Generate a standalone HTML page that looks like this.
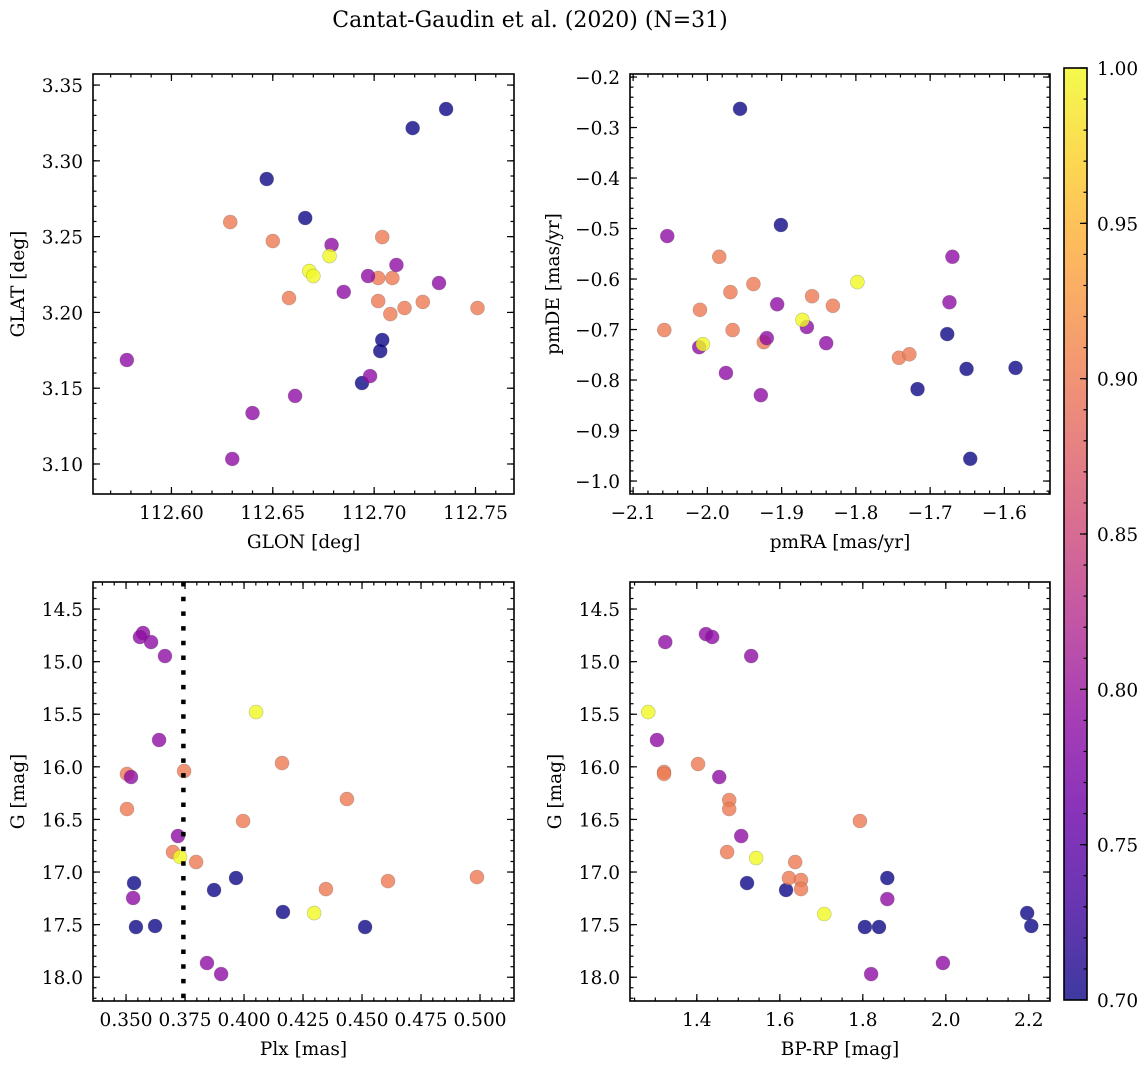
<!DOCTYPE html>
<html><head><meta charset="utf-8"><style>
html,body{margin:0;padding:0;background:#fff;}
svg{display:block;font-family:"DejaVu Serif","Liberation Serif",serif;}
</style></head><body>
<svg id="fig" width="1148" height="1068" viewBox="0 0 1148 1068" xmlns="http://www.w3.org/2000/svg">
<text x="530" y="27" font-size="22" text-anchor="middle">Cantat-Gaudin et al. (2020) (N=31)</text>
</svg>
<script>
// ---- data (C = colour value) ----
const tlX=[112.7355,112.719,112.647,112.666,112.704,112.703,112.694,
 112.629,112.650,112.704,112.702,112.709,112.658,112.702,112.715,112.708,112.724,112.751,
 112.679,112.711,112.697,112.732,112.685,112.578,112.698,112.661,112.640,112.630,
 112.678,112.668,112.670];
const tlY=[3.3342,3.3216,3.2880,3.2623,3.1818,3.1745,3.1534,
 3.2596,3.2471,3.2497,3.2227,3.2227,3.2095,3.2075,3.2029,3.1989,3.2069,3.2029,
 3.2445,3.2313,3.2240,3.2194,3.2135,3.1686,3.1580,3.1449,3.1336,3.1033,
 3.2372,3.2273,3.2240];
const tlC=[0.70,0.70,0.70,0.70,0.70,0.70,0.70,
 0.90,0.90,0.90,0.90,0.90,0.90,0.90,0.90,0.90,0.90,0.90,
 0.79,0.79,0.79,0.79,0.79,0.79,0.79,0.79,0.79,0.79,
 1.0,1.0,1.0];
const trX=[-1.956,-1.901,-1.717,-1.677,-1.651,-1.585,-1.646,
 -1.984,-1.938,-1.969,-1.859,-1.831,-2.010,-2.058,-1.966,-1.924,-1.742,-1.728,
 -2.054,-1.906,-1.866,-1.920,-2.011,-1.840,-1.975,-1.928,-1.670,-1.674,
 -1.798,-1.872,-2.006];
const trY=[-0.263,-0.493,-0.818,-0.709,-0.778,-0.776,-0.956,
 -0.556,-0.610,-0.626,-0.634,-0.653,-0.661,-0.701,-0.701,-0.725,-0.756,-0.749,
 -0.515,-0.650,-0.695,-0.717,-0.735,-0.727,-0.786,-0.830,-0.556,-0.646,
 -0.606,-0.681,-0.729];
const trC=[0.70,0.70,0.70,0.70,0.70,0.70,0.70,
 0.90,0.90,0.90,0.90,0.90,0.90,0.90,0.90,0.90,0.90,0.90,
 0.79,0.79,0.79,0.79,0.79,0.79,0.79,0.79,0.79,0.79,
 1.0,1.0,1.0];
const blX=[0.3966,0.3534,0.3873,0.4165,0.3542,0.3623,0.4513,
 0.4161,0.3504,0.3746,0.4436,0.3504,0.3996,0.3699,0.3797,0.4347,0.4610,0.4987,
 0.3572,0.3559,0.3606,0.3665,0.3640,0.3521,0.3720,0.3530,0.3843,0.3903,
 0.4051,0.3729,0.4297];
const blY=[17.057,17.105,17.171,17.380,17.523,17.513,17.523,
 15.964,16.068,16.040,16.306,16.401,16.515,16.810,16.905,17.162,17.086,17.048,
 14.728,14.766,14.814,14.947,15.745,16.097,16.658,17.247,17.865,17.970,
 15.479,16.857,17.390];
const blC=[0.70,0.70,0.70,0.70,0.70,0.70,0.70,
 0.90,0.90,0.90,0.90,0.90,0.90,0.90,0.90,0.90,0.90,0.90,
 0.79,0.79,0.79,0.79,0.79,0.79,0.79,0.79,0.79,0.79,
 1.0,1.0,1.0];
const brX=[1.859,1.521,1.615,2.196,2.206,1.805,1.839,
 1.403,1.321,1.321,1.478,1.478,1.793,1.473,1.637,1.622,1.651,1.651,
 1.324,1.422,1.437,1.531,1.304,1.454,1.507,1.859,1.993,1.820,
 1.283,1.543,1.707];
const brY=[17.057,17.105,17.171,17.390,17.513,17.523,17.523,
 15.973,16.049,16.068,16.316,16.401,16.515,16.810,16.905,17.057,17.076,17.162,
 14.814,14.738,14.766,14.947,15.745,16.097,16.658,17.257,17.865,17.970,
 15.479,16.867,17.399];
const brC=[0.70,0.70,0.70,0.70,0.70,0.70,0.70,
 0.90,0.90,0.90,0.90,0.90,0.90,0.90,0.90,0.90,0.90,0.90,
 0.79,0.79,0.79,0.79,0.79,0.79,0.79,0.79,0.79,0.79,
 1.0,1.0,1.0];
const plxCut=[0.3743];
const tlXTicks=[112.60,112.65,112.70,112.75];
const tlYTicks=[3.10,3.15,3.20,3.25,3.30,3.35];
const trXTicks=[-2.1,-2.0,-1.9,-1.8,-1.7,-1.6];
const trYTicks=[-1.0,-0.9,-0.8,-0.7,-0.6,-0.5,-0.4,-0.3,-0.2];
const blXTicks=[0.350,0.375,0.400,0.425,0.450,0.475,0.500];
const gTicks=[14.5,15.0,15.5,16.0,16.5,17.0,17.5,18.0];
const brXTicks=[1.4,1.6,1.8,2.0,2.2];
const cbTicks=[0.70,0.75,0.80,0.85,0.90,0.95,1.00];

const NS="http://www.w3.org/2000/svg";
const svg=document.getElementById('fig');
function mk(tag,attrs,parent){const e=document.createElementNS(NS,tag);for(const k in attrs)e.setAttribute(k,attrs[k]);(parent||svg).appendChild(e);return e;}
const PL=[[0,[13,8,135]],[0.1,[65,4,157]],[0.2,[106,0,168]],[0.3,[143,13,164]],[0.4,[177,42,144]],[0.5,[204,71,120]],[0.6,[225,100,98]],[0.7,[242,132,75]],[0.8,[252,166,54]],[0.9,[252,206,37]],[1,[240,249,33]]];
function plasma(t){t=Math.max(0,Math.min(1,t));for(let i=1;i<PL.length;i++){if(t<=PL[i][0]){const a=PL[i-1],b=PL[i],f=(t-a[0])/(b[0]-a[0]);return 'rgb('+a[1].map((v,j)=>Math.round(v+(b[1][j]-v)*f)).join(',')+')';}}return 'rgb(240,249,33)';}
const CMIN=0.7,CMAX=1.0;
const FS=18.5;
const fmtMinus=s=>s.replace('-','\u2212');

function panel(o){
  const g=mk('g',{});
  
  
  const sx=v=>o.x0+(v-o.xd[0])/(o.xd[1]-o.xd[0])*(o.x1-o.x0);
  const sy=v=>o.inv? o.y0+(v-o.yd[0])/(o.yd[1]-o.yd[0])*(o.y1-o.y0)
                   : o.y1-(v-o.yd[0])/(o.yd[1]-o.yd[0])*(o.y1-o.y0);
  for(let i=0;i<o.X.length;i++){
    const c=mk('circle',{cx:sx(o.X[i]),cy:sy(o.Y[i]),r:7,fill:plasma((o.C[i]-CMIN)/(CMAX-CMIN)),'fill-opacity':0.8,stroke:'#555','stroke-opacity':0.35,'stroke-width':0.6},g);
    
    
  }
  if(o.vline){for(const v of o.vline){const l=mk('line',{x1:sx(v),x2:sx(v),y1:o.y0,y2:o.y1,stroke:'#000','stroke-width':4.5,'stroke-dasharray':'4.5 10.2'},g);
    
    }}
  const f=mk('rect',{x:o.x0,y:o.y0,width:o.x1-o.x0,height:o.y1-o.y0,fill:'none',stroke:'#000','stroke-width':1.6},g);
  
  
  const tk=(x1,y1,x2,y2)=>mk('line',{x1,y1,x2,y2,stroke:'#000','stroke-width':1.2},g);
  const eps=1e-9;
  for(let v=Math.ceil(o.xd[0]/o.xm-eps)*o.xm; v<=o.xd[1]+eps; v+=o.xm){const x=sx(v);if(x<o.x0-0.5||x>o.x1+0.5)continue;tk(x,o.y1,x,o.y1-3.5);tk(x,o.y0,x,o.y0+3.5);}
  const ylo=Math.min(o.yd[0],o.yd[1]),yhi=Math.max(o.yd[0],o.yd[1]);
  for(let v=Math.ceil(ylo/o.ym-eps)*o.ym; v<=yhi+eps; v+=o.ym){const y=sy(v);if(y<o.y0-0.5||y>o.y1+0.5)continue;tk(o.x0,y,o.x0+3.5,y);tk(o.x1,y,o.x1-3.5,y);}
  const xl=mk('g',{},g);
  
  
  o.xt.forEach(v=>{const x=sx(v);tk(x,o.y1,x,o.y1-7);tk(x,o.y0,x,o.y0+7);
    const t=mk('text',{x:x,y:o.y1+25,'font-size':FS,'text-anchor':'middle'},xl);t.textContent=fmtMinus(v.toFixed(o.xdec));});
  const yl=mk('g',{},g);
  
  
  o.yt.forEach(v=>{const y=sy(v);tk(o.x0,y,o.x0+7,y);tk(o.x1,y,o.x1-7,y);
    const t=mk('text',{x:o.x0-10,y:y+7,'font-size':FS,'text-anchor':'end'},yl);t.textContent=fmtMinus(v.toFixed(o.ydec));});
  const xa=mk('text',{x:(o.x0+o.x1)/2,y:o.y1+54,'font-size':FS,'text-anchor':'middle'},g);
  xa.textContent=o.xlab;
  
  
  const yc=(o.y0+o.y1)/2, yx=o.ylx;
  const ya=mk('text',{x:yx,y:yc,'font-size':FS,'text-anchor':'middle',transform:`rotate(-90 ${yx} ${yc})`},g);
  ya.textContent=o.ylab;
  
  
}

panel({name:'glon-glat-panel',x0:93,x1:514,y0:74,y1:494,xd:[112.5613,112.7690],yd:[3.0802,3.3573],X:tlX,Y:tlY,C:tlC,
  xt:tlXTicks,yt:tlYTicks,xm:0.01,ym:0.01,xdec:2,ydec:2,xlab:'GLON [deg]',ylab:'GLAT [deg]',ylx:24});
panel({name:'proper-motion-panel',x0:630,x1:1050,y0:74,y1:494,xd:[-2.1042,-1.5386],yd:[-1.0257,-0.194],X:trX,Y:trY,C:trC,
  xt:trXTicks,yt:trYTicks,xm:0.02,ym:0.02,xdec:1,ydec:1,xlab:'pmRA [mas/yr]',ylab:'pmDE [mas/yr]',ylx:559});
panel({name:'plx-g-panel',x0:93,x1:514,y0:582,y1:1001,xd:[0.336,0.5144],yd:[14.243,18.226],inv:true,X:blX,Y:blY,C:blC,vline:plxCut,
  xt:blXTicks,yt:gTicks,xm:0.005,ym:0.1,xdec:3,ydec:1,xlab:'Plx [mas]',ylab:'G [mag]',ylx:24});
panel({name:'cmd-panel',x0:630,x1:1050,y0:582,y1:1001,xd:[1.239,2.251],yd:[14.243,18.226],inv:true,X:brX,Y:brY,C:brC,
  xt:brXTicks,yt:gTicks,xm:0.05,ym:0.1,xdec:1,ydec:1,xlab:'BP-RP [mag]',ylab:'G [mag]',ylx:561});

const cb=mk('g',{});


const defs=mk('defs',{},cb);
const grad=mk('linearGradient',{id:'pg',x1:0,y1:1,x2:0,y2:0},defs);
PL.forEach(s=>mk('stop',{offset:s[0],'stop-color':plasma(s[0]),'stop-opacity':0.8},grad));
const CB={x0:1064,x1:1087,y0:68,y1:1000};
mk('rect',{x:CB.x0,y:CB.y0,width:CB.x1-CB.x0,height:CB.y1-CB.y0,fill:'url(#pg)',stroke:'#000','stroke-width':1.6},cb);
const cy=v=>CB.y1-(v-CMIN)/(CMAX-CMIN)*(CB.y1-CB.y0);
for(let k=1;k<30;k++){const y=cy(CMIN+k*0.01);mk('line',{x1:CB.x1,x2:CB.x1-3.5,y1:y,y2:y,stroke:'#000','stroke-width':1.2},cb);}
cbTicks.forEach(v=>{const y=cy(v);mk('line',{x1:CB.x1,x2:CB.x1-7,y1:y,y2:y,stroke:'#000','stroke-width':1.2},cb);
  const t=mk('text',{x:CB.x1+10,y:y+7,'font-size':FS},cb);t.textContent=v.toFixed(2);
  
  });
</script>
</body></html>
